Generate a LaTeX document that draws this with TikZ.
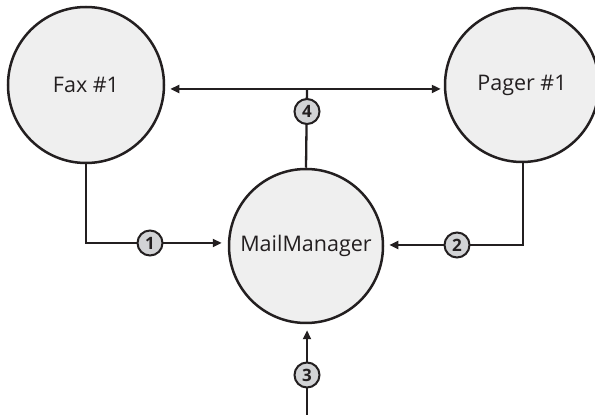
\documentclass[tikz,border=0pt]{standalone}
\usepackage{fontspec}
\setmainfont{Open Sans}
\usetikzlibrary{arrows.meta}
\definecolor{ink}{HTML}{231F20}
\definecolor{bubble}{HTML}{EFEFEF}
\definecolor{badgefill}{HTML}{D2D3D5}
\begin{document}
\begin{tikzpicture}[x=1pt,y=1pt,
  bignode/.style={circle,draw=ink,fill=bubble,line width=2.5pt,inner sep=0pt,
    font=\fontsize{21.5}{24}\selectfont,text=ink},
  badge/.style={circle,draw=ink,fill=badgefill,line width=2pt,minimum size=25pt,
    inner sep=0pt,font=\fontsize{17}{18}\selectfont\bfseries,text=ink},
  conn/.style={draw=ink,line width=2.3pt},
  tip/.style={-{Triangle[length=9pt,width=8pt]}}]
\useasboundingbox (0,0) rectangle (595,415);
\begin{scope}
\clip (0,0) rectangle (595,415);
\node[bignode,minimum size=156pt] (fax) at (86,330) {Fax \#1};
\node[bignode,minimum size=154pt] (pager) at (522,330) {Pager \#1};
\node[bignode,minimum size=154pt] (mm) at (306,169) {MailManager};
\coordinate (bottom) at (307,0);
\coordinate (faxcorner) at (86,172);
\coordinate (pagercorner) at (523,170);
\coordinate (topjoint) at (307,326);
\end{scope}
% 4
\draw[conn,{Triangle[length=9pt,width=8pt]}-{Triangle[length=9pt,width=8pt]}]
  ([xshift=5pt,yshift=-4pt]fax.east) -- ([xshift=-3pt,yshift=-4pt]pager.west);
\draw[conn] (mm.north) -- (topjoint);
% 1
\draw[conn,tip] (fax.south) -- (faxcorner) -- ([xshift=-6pt,yshift=3pt]mm.west);
% 2
\draw[conn,tip] ([xshift=1pt]pager.south) -- (pagercorner) -- ([xshift=5pt,yshift=1pt]mm.east);
% 3
\draw[conn,tip] (bottom) -- ([xshift=1pt,yshift=-6pt]mm.south);
\node[badge] (b1) at (150,172) {1};
\node[badge] (b2) at (457,170) {2};
\node[badge] (b3) at (307,40) {3};
\node[badge] (b4) at (307,303.5) {4};
\end{tikzpicture}
\end{document}
